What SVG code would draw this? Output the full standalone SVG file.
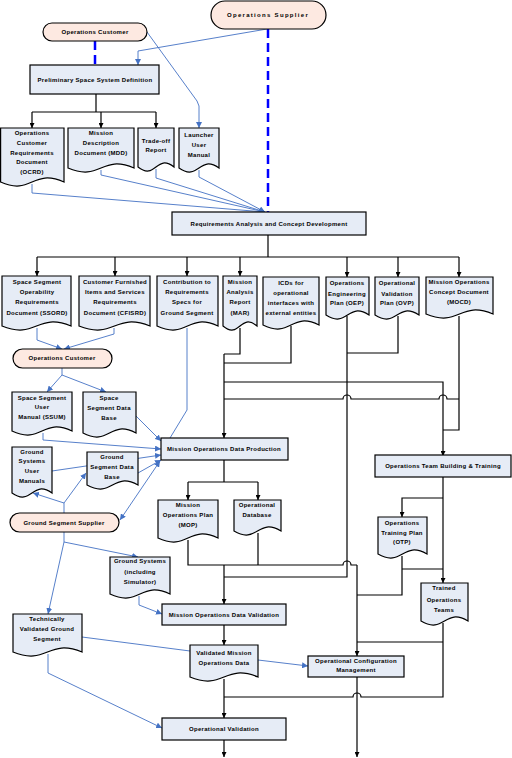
<svg xmlns="http://www.w3.org/2000/svg" width="512" height="758" viewBox="0 0 512 758">
<style>
.box{fill:#e6ecf6;stroke:#000;stroke-width:1.2}
.term{fill:#fde9e1;stroke:#000;stroke-width:1.2}
.doc{fill:#e6ecf6;stroke:#000;stroke-width:1.2}
text{font-family:"Liberation Sans",Arial,sans-serif;font-size:6px;font-weight:bold;fill:#000;text-anchor:middle;letter-spacing:0.3px}
.wide{letter-spacing:1.3px}
.blk{fill:none;stroke:#000;stroke-width:1.2}
.blu{fill:none;stroke:#4472c4;stroke-width:0.9}
.dash{fill:none;stroke:#0000ff;stroke-width:2.5;stroke-dasharray:9 5}
</style>
<defs>
<marker id="ab" viewBox="0 0 10 10" refX="10" refY="5" markerWidth="5" markerHeight="5" markerUnits="userSpaceOnUse" orient="auto"><path d="M0,0 L10,5 L0,10 Z" fill="#000"/></marker>
<marker id="au" viewBox="0 0 10 10" refX="10" refY="5" markerWidth="6" markerHeight="6" markerUnits="userSpaceOnUse" orient="auto"><path d="M0,0 L10,5 L0,10 Z" fill="#4472c4"/></marker>
<marker id="aus" viewBox="0 0 10 10" refX="0" refY="5" markerWidth="6" markerHeight="6" markerUnits="userSpaceOnUse" orient="auto"><path d="M10,0 L0,5 L10,10 Z" fill="#4472c4"/></marker>
</defs>

<g id="connectors">
<!-- dashed -->
<path class="dash" d="M95,41 V65"/>
<path class="dash" d="M268,29 V212"/>
<!-- black -->
<path class="blk" d="M96,94 V112 M32,112 H156"/>
<path class="blk" d="M32,112 V128" marker-end="url(#ab)"/>
<path class="blk" d="M101,112 V128" marker-end="url(#ab)"/>
<path class="blk" d="M156,112 V128" marker-end="url(#ab)"/>
<path class="blk" d="M268,235 V257 M37,257 H459"/>
<path class="blk" d="M37,257 V276" marker-end="url(#ab)"/>
<path class="blk" d="M115,257 V276" marker-end="url(#ab)"/>
<path class="blk" d="M187,257 V276" marker-end="url(#ab)"/>
<path class="blk" d="M240,257 V276" marker-end="url(#ab)"/>
<path class="blk" d="M347,257 V277" marker-end="url(#ab)"/>
<path class="blk" d="M398,257 V277" marker-end="url(#ab)"/>
<path class="blk" d="M459,257 V277" marker-end="url(#ab)"/>
<path class="blk" d="M240,328 V354 H224 M291,326 V363 H224"/>
<path class="blk" d="M224,354 V438" marker-end="url(#ab)"/>
<path class="blk" d="M224,382 H443 V456" marker-end="url(#ab)"/>
<path class="blk" d="M398,316 V353 H347"/>
<path class="blk" d="M347,316 V577 H224"/>
<path class="blk" d="M459,316 V430 H443"/>
<path class="blk" d="M224,399 H343 a4,4 0 0 1 8,0 H439 a4,4 0 0 1 8,0 H459"/>
<path class="blk" d="M224,460 V482 M188,482 H258"/>
<path class="blk" d="M188,482 V500" marker-end="url(#ab)"/>
<path class="blk" d="M258,482 V500" marker-end="url(#ab)"/>
<path class="blk" d="M188,540 V565 H343 a4,4 0 0 1 8,0 H357 M258,533 V565"/>
<path class="blk" d="M357,565 V656" marker-end="url(#ab)"/>
<path class="blk" d="M224,565 V604" marker-end="url(#ab)"/>
<path class="blk" d="M443,477 V583" marker-end="url(#ab)"/>
<path class="blk" d="M443,498 H402 V517" marker-end="url(#ab)"/>
<path class="blk" d="M402,556 V595 H357 M402,569 H443"/>
<path class="blk" d="M443,623 V697 H361 a4,4 0 0 0 -8,0 H224 M443,642 H357"/>
<path class="blk" d="M224,625 V645" marker-end="url(#ab)"/>
<path class="blk" d="M224,679 V718" marker-end="url(#ab)"/>
<path class="blk" d="M357,677 V757" marker-end="url(#ab)"/>
<path class="blk" d="M224,740 V757" marker-end="url(#ab)"/>
<!-- blue -->
<path class="blu" d="M267,29 L138,51 V65" marker-end="url(#au)"/>
<path class="blu" d="M147,32 L197,101 L199,106 V128" marker-end="url(#au)"/>
<path class="blu" d="M32,184 V193 L265,212" marker-end="url(#au)"/>
<path class="blu" d="M101,170 V175 L265,212" marker-end="url(#au)"/>
<path class="blu" d="M156,169 V178 L265,212" marker-end="url(#au)"/>
<path class="blu" d="M199,170 V177 L265,212" marker-end="url(#au)"/>
<path class="blu" d="M37,328 V340 L62,349" marker-end="url(#au)"/>
<path class="blu" d="M114,328 V334 L64,349" marker-end="url(#au)"/>
<path class="blu" d="M62,368 V375 L47,392" marker-end="url(#au)"/>
<path class="blu" d="M62,375 L106,392" marker-end="url(#au)"/>
<path class="blu" d="M43,433 V440 L161,449" marker-end="url(#au)"/>
<path class="blu" d="M136,416 L161,441" marker-end="url(#au)"/>
<path class="blu" d="M187,328 V410 L170,438"/>
<path class="blu" d="M52,471 L161,455" marker-end="url(#au)"/>
<path class="blu" d="M138,473 L161,460" marker-end="url(#au)"/>
<path class="blu" d="M160,461 L120,520" marker-start="url(#aus)" marker-end="url(#au)"/>
<path class="blu" d="M64,513 V503 L33,493" marker-end="url(#au)"/>
<path class="blu" d="M64,503 L86,473" marker-end="url(#au)"/>
<path class="blu" d="M64,532 V542 L138,557" marker-end="url(#au)"/>
<path class="blu" d="M64,542 L48,614" marker-end="url(#au)"/>
<path class="blu" d="M139,596 V605 L162,614" marker-end="url(#au)"/>
<path class="blu" d="M82,637 L190,651"/>
<path class="blu" d="M48,654 V673 L162,728" marker-end="url(#au)"/>
<path class="blu" d="M258,660 L308,666" marker-end="url(#au)"/>
</g>

<g id="ops-supplier"><rect class="term" x="211" y="1" width="115" height="28" rx="14"/><text class="wide" x="268" y="17">Operations Supplier</text></g>
<g id="ops-customer-1"><rect class="term" x="43" y="23" width="104" height="18" rx="9"/><text x="95" y="34">Operations Customer</text></g>
<g id="prelim"><rect class="box" x="30" y="65" width="129" height="29"/><text x="95" y="82">Preliminary Space System Definition</text></g>

<g id="ocrd"><path class="doc" d="M0.6,128 H64 V182 C32,168 32,196 0.6,182 Z"/><text x="32" y="135">Operations</text><text x="32" y="145">Customer</text><text x="32" y="155">Requirements</text><text x="32" y="164">Document</text><text x="32" y="174">(OCRD)</text></g>
<g id="mdd"><path class="doc" d="M68,128 H134 V168 C101,154 101,182 68,168 Z"/><text x="101" y="135">Mission</text><text x="101" y="145">Description</text><text x="101" y="155">Document (MDD)</text></g>
<g id="tradeoff"><path class="doc" d="M138,128 H174 V167 C156,153 156,181 138,167 Z"/><text x="156" y="143">Trade-off</text><text x="156" y="152">Report</text></g>
<g id="launcher"><path class="doc" d="M179,128 H219 V168 C199,154 199,182 179,168 Z"/><text x="199" y="137">Launcher</text><text x="199" y="147">User</text><text x="199" y="157">Manual</text></g>

<g id="req-analysis"><rect class="box" x="172" y="212" width="194" height="23"/><text x="269" y="226">Requirements Analysis and Concept Development</text></g>

<g id="ssord"><path class="doc" d="M2,276 H71 V326 C36.5,312 36.5,340 2,326 Z"/><text x="37" y="284">Space Segment</text><text x="37" y="294">Operability</text><text x="37" y="304">Requirements</text><text x="37" y="315">Document (SSORD)</text></g>
<g id="cfisrd"><path class="doc" d="M79,276 H150 V326 C114.5,312 114.5,340 79,326 Z"/><text x="115" y="284">Customer Furnished</text><text x="115" y="294">Items and Services</text><text x="115" y="304">Requirements</text><text x="115" y="315">Document (CFISRD)</text></g>
<g id="contribution"><path class="doc" d="M157,276 H218 V326 C187.5,312 187.5,340 157,326 Z"/><text x="187" y="284">Contribution to</text><text x="187" y="294">Requirements</text><text x="187" y="304">Specs for</text><text x="187" y="315">Ground Segment</text></g>
<g id="mar"><path class="doc" d="M223,276 H257 V326 C240,312 240,340 223,326 Z"/><text x="240" y="284">Mission</text><text x="240" y="294">Analysis</text><text x="240" y="304">Report</text><text x="240" y="315">(MAR)</text></g>
<g id="icds"><path class="doc" d="M263,277 H319 V325 C291,311 291,339 263,325 Z"/><text x="291" y="285">ICDs for</text><text x="291" y="295">operational</text><text x="291" y="305">interfaces with</text><text x="291" y="315">external entities</text></g>
<g id="oep"><path class="doc" d="M326,277 H369 V315 C347.5,301 347.5,329 326,315 Z"/><text x="347" y="285">Operations</text><text x="347" y="296">Engineering</text><text x="347" y="305">Plan (OEP)</text></g>
<g id="ovp"><path class="doc" d="M375,277 H419 V315 C397,301 397,329 375,315 Z"/><text x="397" y="285">Operational</text><text x="397" y="296">Validation</text><text x="397" y="305">Plan (OVP)</text></g>
<g id="mocd"><path class="doc" d="M426,277 H493 V314 C459.5,300 459.5,328 426,314 Z"/><text x="459" y="284">Mission Operations</text><text x="459" y="294">Concept Document</text><text x="459" y="304">(MOCD)</text></g>

<g id="ops-customer-2"><rect class="term" x="13" y="349" width="99" height="19" rx="9.5"/><text x="62" y="360">Operations Customer</text></g>
<g id="ssum"><path class="doc" d="M12,392 H72 V431 C42,417 42,445 12,431 Z"/><text x="42" y="400">Space Segment</text><text x="42" y="409">User</text><text x="42" y="419">Manual (SSUM)</text></g>
<g id="ssdb"><path class="doc" d="M83,392 H136 V433 C109.5,419 109.5,447 83,433 Z"/><text x="109" y="400">Space</text><text x="109" y="410">Segment Data</text><text x="109" y="420">Base</text></g>

<g id="modp"><rect class="box" x="161" y="438" width="127" height="22"/><text x="224" y="451">Mission Operations Data Production</text></g>
<g id="gsum"><path class="doc" d="M12,447 H52 V493 C32,479 32,507 12,493 Z"/><text x="32" y="454">Ground</text><text x="32" y="463">Systems</text><text x="32" y="473">User</text><text x="32" y="483">Manuals</text></g>
<g id="gsdb"><path class="doc" d="M87,452 H138 V485 C112.5,471 112.5,499 87,485 Z"/><text x="112" y="459">Ground</text><text x="112" y="469">Segment Data</text><text x="112" y="479">Base</text></g>
<g id="ots"><rect class="box" x="375" y="455" width="136" height="22"/><text x="443" y="468">Operations Team Building &amp; Training</text></g>

<g id="mop"><path class="doc" d="M158,500 H218 V538 C188,524 188,552 158,538 Z"/><text x="188" y="507">Mission</text><text x="188" y="517">Operations Plan</text><text x="188" y="527">(MOP)</text></g>
<g id="odb"><path class="doc" d="M234,500 H281 V531 C257.5,517 257.5,545 234,531 Z"/><text x="257" y="507">Operational</text><text x="257" y="517">Database</text></g>
<g id="gss"><rect class="term" x="10" y="513" width="109" height="19" rx="9.5"/><text x="64" y="525">Ground Segment Supplier</text></g>
<g id="otp"><path class="doc" d="M378,517 H427 V554 C402.5,540 402.5,568 378,554 Z"/><text x="402" y="525">Operations</text><text x="402" y="535">Training Plan</text><text x="402" y="544">(OTP)</text></g>
<g id="ground-systems"><path class="doc" d="M110,557 H170 V594 C140,580 140,608 110,594 Z"/><text x="140" y="563">Ground Systems</text><text x="140" y="574">(including</text><text x="140" y="584">Simulator)</text></g>
<g id="trained"><path class="doc" d="M421,583 H468 V621 C444.5,607 444.5,635 421,621 Z"/><text x="444" y="590">Trained</text><text x="444" y="602">Operations</text><text x="444" y="612">Teams</text></g>
<g id="modv"><rect class="box" x="162" y="604" width="124" height="21"/><text x="224" y="617">Mission Operations Data Validation</text></g>
<g id="tvgs"><path class="doc" d="M13,614 H82 V652 C47.5,638 47.5,666 13,652 Z"/><text x="47" y="621">Technically</text><text x="47" y="631">Validated Ground</text><text x="47" y="641">Segment</text></g>
<g id="vmod"><path class="doc" d="M190,645 H258 V677 C224,663 224,691 190,677 Z"/><text x="224" y="655">Validated Mission</text><text x="224" y="665">Operations Data</text></g>
<g id="ocm"><rect class="box" x="308" y="656" width="96" height="21"/><text x="356" y="663">Operational Configuration</text><text x="356" y="672">Management</text></g>
<g id="ops-validation"><rect class="box" x="162" y="718" width="124" height="22"/><text x="224" y="731">Operational Validation</text></g>
</svg>
